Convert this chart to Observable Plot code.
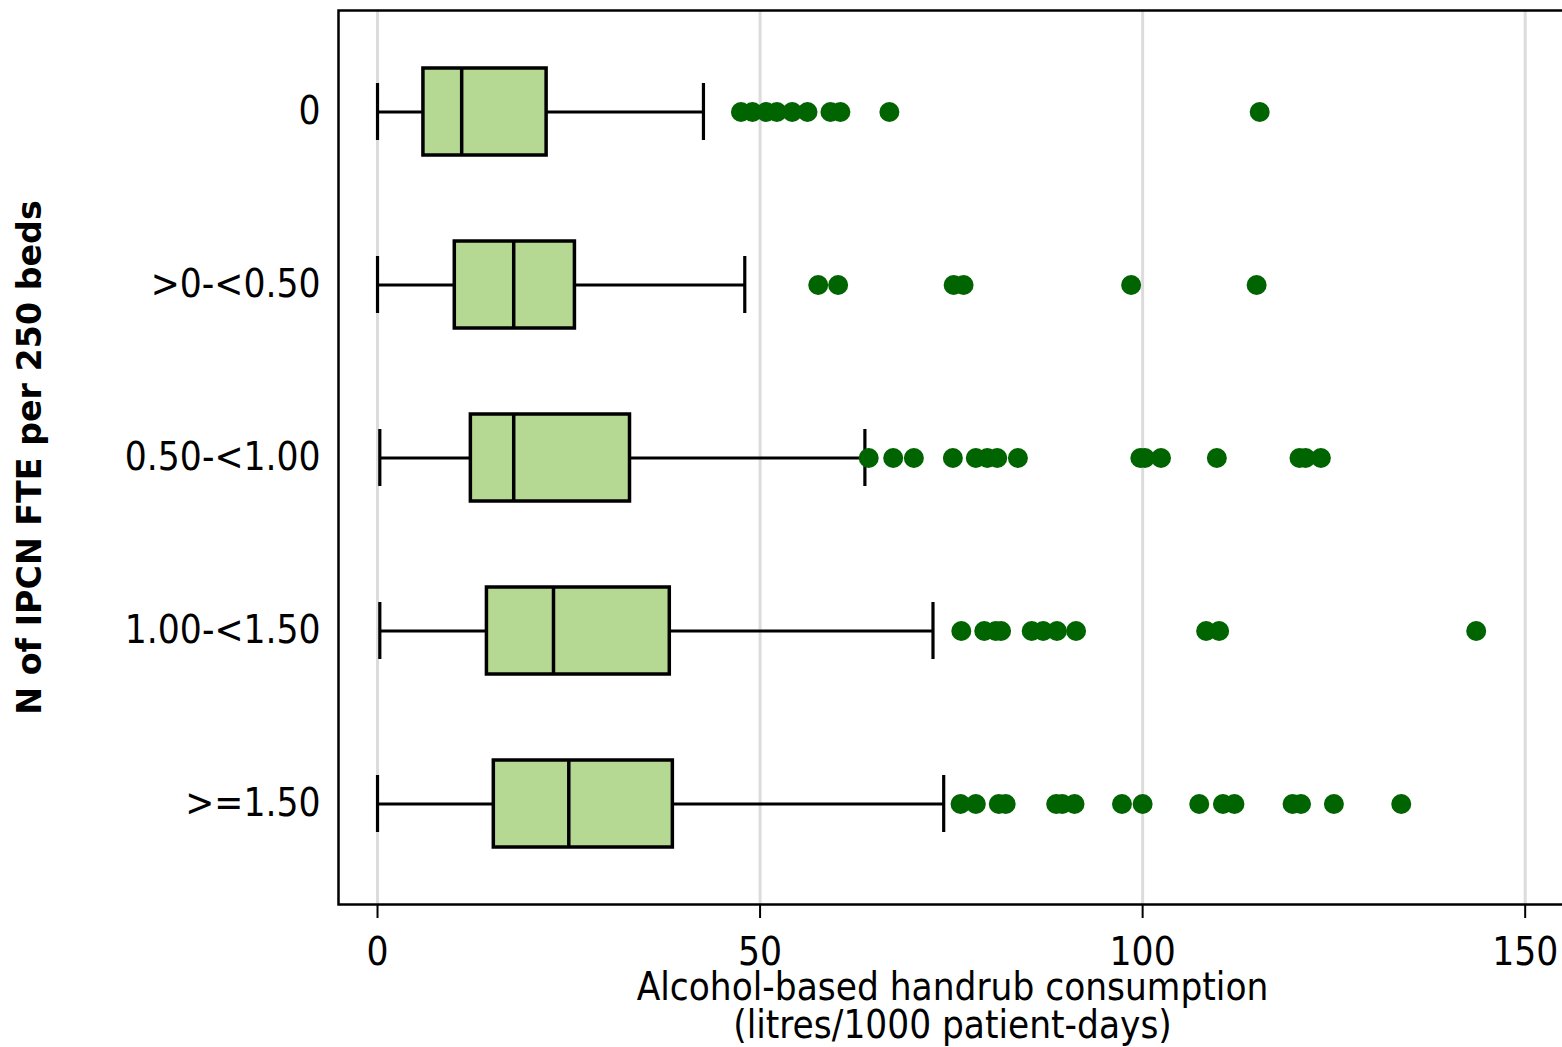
<!DOCTYPE html>
<html>
<head>
<meta charset="utf-8">
<script src="https://cdn.jsdelivr.net/npm/d3@7"></script>
<script src="https://cdn.jsdelivr.net/npm/@observablehq/plot@0.6"></script>
<style>
  html, body { margin: 0; padding: 0; background: #fff; overflow: hidden; }
</style>
</head>
<body>
<div id="chart"></div>
<script>
// Categories (top to bottom)
const groups = ["0", ">0-<0.50", "0.50-<1.00", "1.00-<1.50", ">=1.50"];
// Box statistics per group
const whiskerLo = [0, 0, 0.3, 0.3, 0];
const q1        = [6.0, 10.1, 12.2, 14.3, 15.2];
const median    = [11.0, 17.8, 17.8, 23.0, 25.0];
const q3        = [22.1, 25.8, 33.0, 38.2, 38.6];
const whiskerHi = [42.6, 48.0, 63.7, 72.6, 74.0];
// Outliers per group
const outliers0 = [47.5, 49.0, 50.8, 52.2, 54.2, 56.2, 59.2, 60.5, 66.9, 115.3];
const outliers1 = [57.6, 60.2, 75.3, 76.6, 98.5, 114.9];
const outliers2 = [64.2, 67.4, 70.1, 75.2, 78.2, 79.7, 81.0, 83.7, 99.7, 100.3, 102.4, 109.7, 120.5, 121.3, 123.3];
const outliers3 = [76.3, 79.3, 80.8, 81.5, 85.5, 87.0, 88.8, 91.3, 108.3, 110.0, 143.6];
const outliers4 = [76.2, 78.2, 81.2, 82.1, 88.7, 89.5, 91.1, 97.3, 100.0, 107.4, 110.5, 112.0, 119.6, 120.7, 125.0, 133.8];
const xTicks = [0, 50, 100, 150];
const xTitle = "Alcohol-based handrub consumption\n(litres/1000 patient-days)";
const yTitle = "N of IPCN FTE per 250 beds";

const stats = groups.map((g, i) => ({
  group: g, lo: whiskerLo[i], q1: q1[i], median: median[i], q3: q3[i], hi: whiskerHi[i]
}));
const outlierLists = [outliers0, outliers1, outliers2, outliers3, outliers4];
const points = outlierLists.flatMap((arr, i) => arr.map(v => ({group: groups[i], value: v})));

const font = "'DejaVu Sans Condensed', 'DejaVu Sans', sans-serif";

const chart = Plot.plot({
  width: 1562,
  height: 1047,
  marginLeft: 338,
  marginRight: -4,
  marginTop: 10,
  marginBottom: 143,
  style: {fontFamily: font, background: "#fff", color: "#000", overflow: "hidden"},
  x: {domain: [-5.1, 155.4]},
  y: {type: "band", domain: groups, paddingInner: 0.498, paddingOuter: 0.33},
  marks: [
    Plot.gridX(xTicks, {stroke: "#dcdcdc", strokeOpacity: 1, strokeWidth: 3}),
    Plot.frame({stroke: "#000", strokeWidth: 2.5}),
    Plot.axisX({ticks: xTicks, tickSize: 14, tickPadding: 19, fontSize: 38.5, strokeWidth: 2, label: null}),
    Plot.axisY({tickSize: 0, tickPadding: 18, fontSize: 38.5, label: null}),
    Plot.ruleY(stats, {x1: "lo", x2: "q1", y: "group", stroke: "#000", strokeWidth: 3.2}),
    Plot.ruleY(stats, {x1: "q3", x2: "hi", y: "group", stroke: "#000", strokeWidth: 3.2}),
    Plot.tickX(stats, {x: "lo", y: "group", stroke: "#000", strokeWidth: 3.2, insetTop: 15, insetBottom: 15}),
    Plot.tickX(stats, {x: "hi", y: "group", stroke: "#000", strokeWidth: 3.2, insetTop: 15, insetBottom: 15}),
    Plot.barX(stats, {x1: "q1", x2: "q3", y: "group", fill: "#b5d993", stroke: "#000", strokeWidth: 3.5}),
    Plot.tickX(stats, {x: "median", y: "group", stroke: "#000", strokeWidth: 3.5}),
    Plot.dot(points, {x: "value", y: "group", r: 10, fill: "#006400", stroke: "none"}),
    Plot.text([xTitle], {text: d => d, frameAnchor: "bottom", dx: 0, dy: 102, lineAnchor: "middle", lineHeight: 0.99, fontSize: 38.3, fill: "#000"}),
    Plot.text([yTitle], {text: d => d, frameAnchor: "left", dx: -308, rotate: -90, textAnchor: "middle", fontSize: 33.3, fontWeight: "bold", fontFamily: "'DejaVu Sans', sans-serif", fill: "#000"})
  ]
});
document.getElementById("chart").appendChild(chart);
</script>
</body>
</html>
